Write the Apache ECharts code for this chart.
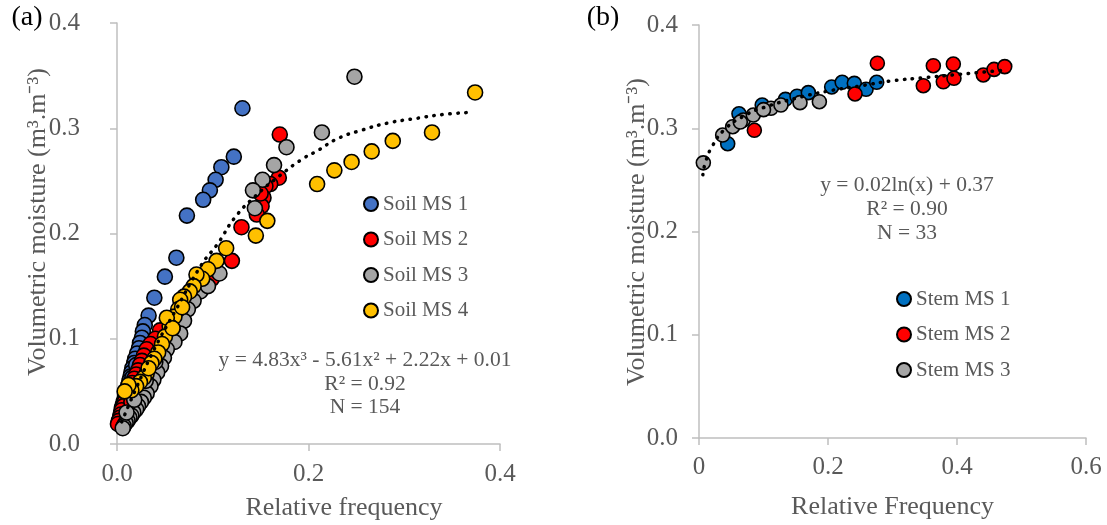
<!DOCTYPE html>
<html>
<head>
<meta charset="utf-8">
<script src="https://cdn.jsdelivr.net/npm/echarts@6/dist/echarts.min.js"></script>
<style>
html,body{margin:0;padding:0;background:#fff;}
#c{width:1107px;height:525px;}
</style>
</head>
<body>
<div id="c"></div>
<script>
// ---- Panel (a): soil ----
const soilNames = ['Soil MS 1', 'Soil MS 2', 'Soil MS 3', 'Soil MS 4'];
const soilColors = ['#4472C4', '#FF0000', '#A5A5A5', '#FFC000'];
const soilMS1 = [[0.131,0.319],[0.122,0.273],[0.109,0.263],[0.103,0.251],[0.097,0.241],[0.090,0.232],[0.073,0.217],[0.062,0.177],[0.050,0.159],[0.039,0.139],[0.033,0.122],[0.029,0.113],[0.027,0.107],[0.026,0.101],[0.024,0.096],[0.023,0.091],[0.021,0.086],[0.019,0.081],[0.018,0.077],[0.016,0.072],[0.015,0.068],[0.014,0.064],[0.013,0.060],[0.012,0.056],[0.011,0.052],[0.010,0.049],[0.009,0.046],[0.008,0.043],[0.007,0.040],[0.006,0.037],[0.005,0.034],[0.005,0.031],[0.004,0.029],[0.004,0.026],[0.003,0.024],[0.003,0.022],[0.002,0.020],[0.010,0.040],[0.016,0.063],[0.020,0.075]];
const soilMS2 = [[0.170,0.294],[0.169,0.253],[0.160,0.247],[0.155,0.245],[0.153,0.234],[0.151,0.226],[0.146,0.218],[0.150,0.238],[0.130,0.206],[0.120,0.174],[0.099,0.157],[0.085,0.145],[0.075,0.135],[0.066,0.126],[0.057,0.118],[0.045,0.108],[0.040,0.100],[0.035,0.095],[0.031,0.090],[0.028,0.084],[0.026,0.079],[0.024,0.075],[0.022,0.070],[0.020,0.066],[0.018,0.062],[0.016,0.058],[0.014,0.053],[0.012,0.049],[0.010,0.045],[0.008,0.040],[0.007,0.036],[0.005,0.032],[0.004,0.028],[0.003,0.025],[0.002,0.022],[0.001,0.019],[0.015,0.040],[0.020,0.055]];
const soilMS3 = [[0.248,0.349],[0.214,0.296],[0.177,0.282],[0.164,0.265],[0.152,0.251],[0.142,0.241],[0.144,0.224],[0.107,0.162],[0.087,0.145],[0.080,0.136],[0.074,0.128],[0.070,0.117],[0.066,0.105],[0.060,0.097],[0.052,0.090],[0.049,0.082],[0.046,0.074],[0.042,0.068],[0.038,0.061],[0.035,0.055],[0.031,0.048],[0.028,0.044],[0.025,0.040],[0.022,0.036],[0.020,0.033],[0.017,0.030],[0.015,0.027],[0.013,0.025],[0.011,0.022],[0.009,0.020],[0.007,0.017],[0.006,0.015],[0.010,0.030],[0.018,0.042],[0.030,0.060],[0.040,0.078],[0.058,0.110],[0.095,0.150]];
const soilMS4 = [[0.374,0.334],[0.329,0.296],[0.288,0.288],[0.266,0.278],[0.245,0.268],[0.227,0.260],[0.209,0.247],[0.157,0.212],[0.145,0.198],[0.114,0.186],[0.104,0.174],[0.095,0.166],[0.089,0.157],[0.083,0.161],[0.080,0.150],[0.076,0.145],[0.070,0.140],[0.066,0.137],[0.064,0.128],[0.060,0.121],[0.055,0.112],[0.050,0.102],[0.047,0.095],[0.043,0.087],[0.039,0.081],[0.036,0.077],[0.031,0.067],[0.028,0.063],[0.024,0.059],[0.020,0.055],[0.015,0.051],[0.012,0.056],[0.008,0.050],[0.033,0.072],[0.052,0.120],[0.058,0.110],[0.068,0.130]];
// dotted trend line
const soilTrend = [[0.005,0.021],[0.02,0.053],[0.04,0.092],[0.06,0.125],[0.088,0.170],[0.105,0.190],[0.123,0.215],[0.145,0.236],[0.17,0.255],[0.194,0.271],[0.21,0.279],[0.23,0.290],[0.255,0.298],[0.283,0.305],[0.31,0.309],[0.34,0.313],[0.368,0.315]];
const soilEq = ['y = 4.83x³ - 5.61x² + 2.22x + 0.01', 'R² = 0.92', 'N = 154'];
const soilXTicks = ['0.0', '0.2', '0.4'];

// ---- Panel (b): stem ----
const stemNames = ['Stem MS 1', 'Stem MS 2', 'Stem MS 3'];
const stemColors = ['#0070C0', '#FF0000', '#A5A5A5'];
const stemMS1 = [[0.0445,0.285],[0.062,0.314],[0.098,0.3225],[0.134,0.328],[0.152,0.331],[0.1695,0.3345],[0.2057,0.340],[0.222,0.3445],[0.2408,0.3435],[0.259,0.3377],[0.2755,0.3445]];
const stemMS2 = [[0.0858,0.298],[0.2419,0.3332],[0.2765,0.363],[0.3478,0.3412],[0.3633,0.3606],[0.3788,0.345],[0.3943,0.3622],[0.3953,0.3484],[0.4408,0.3516],[0.4574,0.357],[0.474,0.3597]];
const stemMS3 = [[0.0067,0.2665],[0.0367,0.2934],[0.0522,0.3015],[0.0687,0.308],[0.0842,0.3128],[0.1116,0.3193],[0.127,0.3225],[0.1566,0.3248],[0.1866,0.3257],[0.064,0.306],[0.10,0.318]];
const stemTrend = [[0.006,0.255],[0.01,0.267],[0.02,0.282],[0.04,0.299],[0.07,0.312],[0.1,0.320],[0.15,0.329],[0.2,0.336],[0.25,0.341],[0.3,0.346],[0.35,0.349],[0.4,0.352],[0.47,0.356]];
const stemEq = ['y = 0.02ln(x) + 0.37', 'R² = 0.90', 'N = 33'];
const stemXTicks = ['0', '0.2', '0.4', '0.6'];

const yTicks = ['0.0', '0.1', '0.2', '0.3', '0.4'];

const FONT = "'Liberation Serif', 'Times New Roman', serif";
const GREY = '#595959';
const AXIS = '#BFBFBF';

function yAxisOpt(gridIndex, margin) {
  return {
    type: 'value', gridIndex: gridIndex, min: 0, max: 0.4, interval: 0.1,
    axisLine: { show: true, lineStyle: { color: AXIS, width: 1.5 } },
    axisTick: { show: true, length: 7, lineStyle: { color: AXIS, width: 1.5 } },
    splitLine: { show: false },
    axisLabel: { color: GREY, fontFamily: FONT, fontSize: 25, margin: margin,
      formatter: v => yTicks[Math.round(v * 10)] }
  };
}
function xAxisOpt(gridIndex, max, labels, margin) {
  return {
    type: 'value', gridIndex: gridIndex, min: 0, max: max, interval: 0.2,
    axisLine: { show: true, onZero: false, lineStyle: { color: AXIS, width: 1.5 } },
    axisTick: { show: true, length: 7, lineStyle: { color: AXIS, width: 1.5 } },
    splitLine: { show: false },
    axisLabel: { color: GREY, fontFamily: FONT, fontSize: 25, margin: margin,
      formatter: v => labels[Math.round(v * 5)] }
  };
}
function scatter(name, data, color, idx, size) {
  return {
    name: name, type: 'scatter', xAxisIndex: idx, yAxisIndex: idx, data: data,
    symbol: 'circle', symbolSize: size, clip: false,
    itemStyle: { color: color, borderColor: '#000', borderWidth: 1.6, opacity: 1 },
    emphasis: { disabled: true }, z: 2
  };
}
function trend(data, idx) {
  return {
    type: 'line', xAxisIndex: idx, yAxisIndex: idx, data: data, smooth: true,
    showSymbol: false, symbol: 'none', silent: true, z: 5, clip: false,
    lineStyle: { color: '#000', width: 3.5, type: [0.5, 7.5], cap: 'round' }
  };
}
function txt(x, y, text, size, color, rot) {
  return {
    type: 'text', x: x, y: y, rotation: rot || 0, z: 10,
    style: { text: text, font: size + 'px ' + FONT, fill: color,
      textAlign: 'center', textVerticalAlign: 'middle' }
  };
}

const series = [];
const soilData = [soilMS1, soilMS2, soilMS3, soilMS4];
soilNames.forEach((n, i) => series.push(scatter(n, soilData[i], soilColors[i], 0, 15)));
series.push(trend(soilTrend, 0));
const stemData = [stemMS1, stemMS2, stemMS3];
stemNames.forEach((n, i) => series.push(scatter(n, stemData[i], stemColors[i], 1, 14)));
series.push(trend(stemTrend, 1));

const legendCommon = {
  orient: 'vertical', icon: 'circle', itemWidth: 14, itemHeight: 14, itemGap: 11.5,
  selectedMode: false, padding: 0,
  textStyle: { color: GREY, fontFamily: FONT, fontSize: 21, lineHeight: 24 }
};

const chart = echarts.init(document.getElementById('c'), null, { renderer: 'canvas' });
chart.setOption({
  animation: false,
  backgroundColor: '#fff',
  grid: [
    { left: 117, top: 23, width: 383, height: 421 },
    { left: 699, top: 25, width: 387, height: 413 }
  ],
  xAxis: [xAxisOpt(0, 0.4, soilXTicks, 18), xAxisOpt(1, 0.6, stemXTicks, 17)],
  yAxis: [yAxisOpt(0, 37), yAxisOpt(1, 21)],
  legend: [
    Object.assign({ data: soilNames, left: 363, top: 192 }, legendCommon),
    Object.assign({ data: stemNames, left: 896, top: 287 }, legendCommon)
  ],
  series: series,
  graphic: [
    txt(27, 18, '(a)', 28, '#000'),
    txt(603, 18, '(b)', 28, '#000'),
    txt(38.5, 222, 'Volumetric moisture (m³.m⁻³)', 26, GREY, Math.PI / 2),
    txt(637.5, 232, 'Volumetric moisture (m³.m⁻³)', 26, GREY, Math.PI / 2),
    txt(344, 508, 'Relative frequency', 26, GREY),
    txt(892.5, 507, 'Relative Frequency', 26, GREY),
    txt(365, 360, soilEq[0], 21.5, GREY),
    txt(365, 384, soilEq[1], 21.5, GREY),
    txt(365, 407, soilEq[2], 21.5, GREY),
    txt(907, 185, stemEq[0], 21.5, GREY),
    txt(907, 209, stemEq[1], 21.5, GREY),
    txt(907, 233, stemEq[2], 21.5, GREY)
  ]
});
</script>
</body>
</html>
